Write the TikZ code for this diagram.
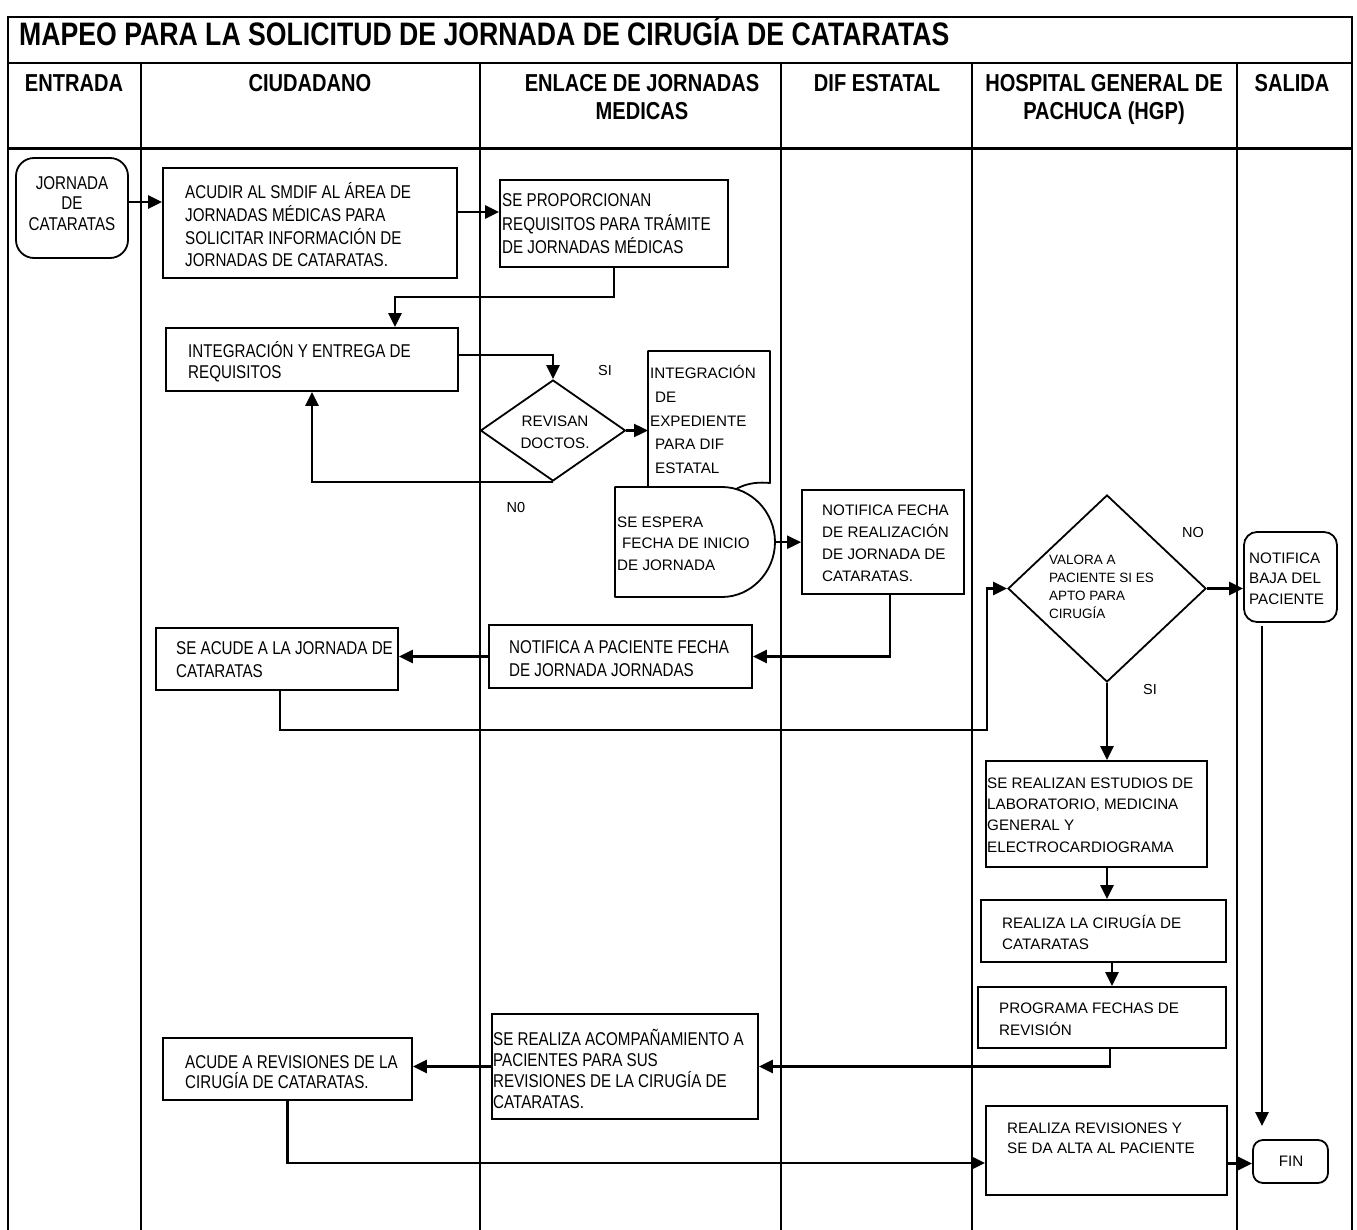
\documentclass[tikz,border=0pt]{standalone}
\usepackage{fontspec}
\setmainfont{Liberation Sans}
\newfontfamily\nar{Liberation Sans}[FakeStretch=0.82]
\usetikzlibrary{arrows.meta,shapes.geometric}
\begin{document}
\begin{tikzpicture}[x=1pt,y=-1pt,
  frm/.style={line width=2pt},
  lanel/.style={line width=1.6pt},
  bx/.style={draw, line width=1.8pt, rectangle, inner sep=0pt},
  rbx/.style={bx, rounded corners=13pt},
  dia/.style={draw, diamond, line width=1.8pt, inner sep=0pt},
  shp/.style={line width=1.8pt, line join=round},
  txt/.style={inner sep=0pt, align=left, anchor=west},
  ntx/.style={font=\nar\fontsize{18.5pt}{#1}\selectfont},
  ntx/.default=22pt,
  rtx/.style={font=\fontsize{15.2pt}{#1}\selectfont},
  rtx/.default=22pt,
  conn/.style={line width=2.4pt},
  arr/.style={conn, -{Triangle[length=14pt,width=13pt]}},
  lbl/.style={font=\fontsize{14.5pt}{16pt}\selectfont, inner sep=0pt},
  hdr/.style={font=\nar\bfseries\fontsize{24.5pt}{28pt}\selectfont, align=center, inner sep=0pt, anchor=north},
]
\fill[white] (0,0) rectangle (1357,1230);
\useasboundingbox (0,0) rectangle (1357,1230);

% frame and lanes
\draw[frm] (8,1230) -- (8,17) -- (1352,17) -- (1352,1230);
\draw[frm] (8,63) -- (1352,63);
\draw[line width=3pt] (8,149) -- (1352,149);
\foreach \lx in {141,480,781,972,1237} {\draw[lanel] (\lx,63) -- (\lx,1230);}

% title and headers
\node[font=\nar\bfseries\fontsize{32.5pt}{36pt}\selectfont, inner sep=0pt, anchor=west] (title) at (19,31) {MAPEO PARA LA SOLICITUD DE JORNADA DE CIRUGÍA DE CATARATAS};
\node[hdr] (hEnt) at (74,74) {ENTRADA};
\node[hdr] (hCiu) at (310,74) {CIUDADANO};
\node[hdr] (hEnl) at (642,74) {ENLACE DE JORNADAS\\MEDICAS};
\node[hdr] (hDif) at (877,74) {DIF ESTATAL};
\node[hdr] (hHgp) at (1104,74) {HOSPITAL GENERAL DE\\PACHUCA (HGP)};
\node[hdr] (hSal) at (1292,74) {SALIDA};

% boxes
\node[rbx, rounded corners=18pt, minimum width=112pt, minimum height=100pt] (start) at (72,208) {};
\node[ntx=20.5pt, inner sep=0pt, align=center] (startT) at (72,203.5) {JORNADA\\DE\\CATARATAS};

\node[bx, minimum width=294pt, minimum height=110pt] (acudir) at (310,223) {};
\node[ntx=22.7pt, txt] (acudirT) at (185,225) {ACUDIR AL SMDIF AL ÁREA DE\\JORNADAS MÉDICAS PARA\\SOLICITAR INFORMACIÓN DE\\JORNADAS DE CATARATAS.};

\node[bx, minimum width=228pt, minimum height=87pt] (prop) at (614,223.5) {};
\node[ntx=23.5pt, txt] (propT) at (502,224) {SE PROPORCIONAN\\REQUISITOS PARA TRÁMITE\\DE JORNADAS MÉDICAS};

\node[bx, minimum width=292pt, minimum height=63pt] (integ) at (312,359.5) {};
\node[ntx=21pt, txt] (integT) at (188,362) {INTEGRACIÓN Y ENTREGA DE\\REQUISITOS};

\node[dia, minimum width=145pt, minimum height=101pt] (rev) at (553,430.5) {};
\node[rtx=22pt, inner sep=0pt, align=center] (revT) at (555,432) {REVISAN\\DOCTOS.};

% document shape
\node[inner sep=0pt, minimum width=122pt, minimum height=136pt, anchor=north west] (doc) at (648,351) {};
\draw[shp] (648,490) -- (648,351) -- (770,351) -- (770,483)
  .. controls (748,481) and (733,487) .. (718,505);
\node[rtx=23.75pt, txt] (docT) at (650,419.5) {INTEGRACIÓN\\\hspace*{5pt}DE\\EXPEDIENTE\\\hspace*{5pt}PARA DIF\\\hspace*{5pt}ESTATAL};

% delay shape
\node[inner sep=0pt, minimum width=160pt, minimum height=110pt, anchor=north west] (wait) at (615,487) {};
\draw[shp, fill=white] (615,487) -- (722,487) .. controls (751,487) and (775,512) .. (775,542)
  .. controls (775,572) and (751,597) .. (722,597) -- (615,597) -- cycle;
\node[rtx=21.5pt, txt] (waitT) at (617,543.5) {SE ESPERA\\\hspace*{5pt}FECHA DE INICIO\\DE JORNADA};

\node[bx, minimum width=162pt, minimum height=104pt] (notif) at (883,542) {};
\node[rtx=22pt, txt] (notifT) at (822,543) {NOTIFICA FECHA\\DE REALIZACIÓN\\DE JORNADA DE\\CATARATAS.};

\node[bx, minimum width=263pt, minimum height=63pt] (notpac) at (620.5,656.5) {};
\node[ntx=23pt, txt] (notpacT) at (509,659) {NOTIFICA A PACIENTE FECHA\\DE JORNADA JORNADAS};

\node[bx, minimum width=242pt, minimum height=62pt] (seacude) at (277,659) {};
\node[ntx=23pt, txt] (seacudeT) at (176,660) {SE ACUDE A LA JORNADA DE\\CATARATAS};

\node[dia, minimum width=198pt, minimum height=187pt] (valora) at (1107,588.5) {};
\node[font=\fontsize{13.5pt}{18pt}\selectfont, txt] (valoraT) at (1049,587) {VALORA A\\PACIENTE SI ES\\APTO PARA\\CIRUGÍA};

\node[rbx, minimum width=93pt, minimum height=90pt] (baja) at (1290.5,577) {};
\node[rtx=20.5pt, txt] (bajaT) at (1249,578.5) {NOTIFICA\\BAJA DEL\\PACIENTE};

\node[bx, minimum width=221pt, minimum height=106pt] (estudios) at (1096.5,814) {};
\node[rtx=21.3pt, txt] (estudiosT) at (987,815) {SE REALIZAN ESTUDIOS DE\\LABORATORIO, MEDICINA\\GENERAL Y\\ELECTROCARDIOGRAMA};

\node[bx, minimum width=245pt, minimum height=62pt] (cirugia) at (1103.5,931) {};
\node[rtx=21pt, txt] (cirugiaT) at (1002,932.5) {REALIZA LA CIRUGÍA DE\\CATARATAS};

\node[bx, minimum width=248pt, minimum height=61pt] (programa) at (1102,1017.5) {};
\node[rtx=22pt, txt] (programaT) at (999,1019) {PROGRAMA FECHAS DE\\REVISIÓN};

\node[bx, minimum width=241pt, minimum height=89pt] (revisiones) at (1106.5,1150.5) {};
\node[rtx=20pt, txt] (revisionesT) at (1007,1138) {REALIZA REVISIONES Y\\SE DA ALTA AL PACIENTE};

\node[rbx, rounded corners=10pt, minimum width=75pt, minimum height=43pt] (fin) at (1290.5,1161.5) {};
\node[rtx, inner sep=0pt] (finT) at (1291,1161.5) {FIN};

\node[bx, minimum width=266pt, minimum height=105pt] (acomp) at (625,1066.5) {};
\node[ntx=21pt, txt] (acompT) at (493,1068.5) {SE REALIZA ACOMPAÑAMIENTO A\\PACIENTES PARA SUS\\REVISIONES DE LA CIRUGÍA DE\\CATARATAS.};

\node[bx, minimum width=249pt, minimum height=62pt] (acude) at (287.5,1069) {};
\node[ntx=20.5pt, txt] (acudeT) at (185,1072) {ACUDE A REVISIONES DE LA\\CIRUGÍA DE CATARATAS.};

% labels
\node[lbl] (siA) at (605,371) {SI};
\node[lbl] (noA) at (516,508) {N0};
\node[lbl] (noB) at (1193,533) {NO};
\node[lbl] (siB) at (1150,690) {SI};

% connectors
\draw[arr] ([yshift=6pt]start.east) -- ([yshift=6pt]start.east -| acudir.west);
\draw[arr] ([yshift=11pt]acudir.east) -- ([yshift=11pt]acudir.east -| prop.west);
\coordinate (b1) at (395,297);
\draw[arr] (prop.south) |- (b1) -- (b1 |- integ.north);
\draw[arr] ([yshift=4.5pt]integ.east) -| (rev.north);
\draw[arr] (rev.south) -| (integ.south);
\draw[arr] (rev.east) -- (rev.east -| doc.west);
\draw[arr] (wait.east) -- (wait.east -| notif.west);
\draw[arr] ([xshift=7pt]notif.south) |- (notpac.east);
\draw[arr] (notpac.west) -- (notpac.west -| seacude.east);
\coordinate (c1) at (987,730);
\draw[arr] ([xshift=3pt]seacude.south) |- (c1) |- (valora.west);
\draw[arr] (valora.east) -- (valora.east -| baja.west);
\draw[arr] (valora.south) -- (valora.south |- estudios.north);
\draw[arr] ([xshift=10.5pt]estudios.south) -- ([xshift=10.5pt]estudios.south |- cirugia.north);
\draw[arr] ([xshift=8.5pt]cirugia.south) -- ([xshift=8.5pt]cirugia.south |- programa.north);
\draw[arr] ([xshift=8pt]programa.south) |- (acomp.east);
\draw[arr] (acomp.west) -- (acomp.west -| acude.east);
\draw[arr] (acude.south) |- ([yshift=-12.5pt]revisiones.west);
\draw[arr] ([yshift=-13pt]revisiones.east) -- ([yshift=-13pt]revisiones.east -| fin.west);
\draw[arr] ([xshift=-28.5pt,yshift=-3pt]baja.south) -- ([xshift=-28.5pt,yshift=13pt]fin.north);
\end{tikzpicture}
\end{document}
